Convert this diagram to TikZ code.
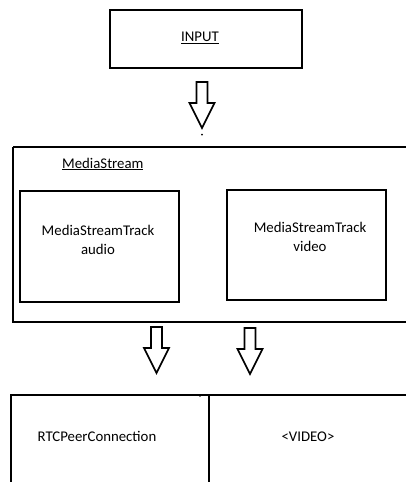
\documentclass[tikz,border=0pt]{standalone}
\usepackage{fontspec}
\setmainfont{Carlito}
\begin{document}
\begin{tikzpicture}[x=1pt,y=-1pt,
  box/.style={draw,line width=2.4pt},
  label/.style={font=\fontsize{14.8}{19}\selectfont,align=center,inner sep=0pt},
  hollowarrow/.pic={
    \draw[line width=1.6pt,line join=miter]
      (-5.5,0) -- (5.5,0) -- (5.5,21) -- (12.5,21) -- (0,46) -- (-12.5,21) -- (-5.5,21) -- cycle;
  }]
  \useasboundingbox (0,0) rectangle (406,482);

  % input block
  \node[box,minimum width=192pt,minimum height=58pt,inner sep=0pt] (input) at (206,39) {};
  \node[label] (inputtext) at (200,38) {\underline{INPUT}};

  % arrow from input into the stream
  \pic at (202,82) {hollowarrow};
  \fill (202,134.5) circle (1pt);

  % media stream container (runs past the right edge)
  \draw[box] (13,147) -- (430,147) (13,147) -- (13,322) -- (430,322);
  \node[label,anchor=west] (stream) at (62,164) {\underline{MediaStream}};

  % tracks
  \draw[box] (20,191) rectangle (179,302);
  \node[label] (audio) at (98,240) {MediaStreamTrack\\audio};
  \draw[box] (227,190) rectangle (386,300);
  \node[label] (video) at (310,237) {MediaStreamTrack\\video};

  % arrows out of the stream
  \pic at (156.5,327) {hollowarrow};
  \pic at (250,328) {hollowarrow};

  % consumers (run past the bottom and right edges)
  \draw[box] (11,500) -- (11,395) -- (430,395) (209,395) -- (209,500);
  \fill (200,396) circle (0.9pt);
  \node[label] (peer) at (97,436) {RTCPeerConnection};
  \node[label] (videotag) at (308,437) {<VIDEO>};
\end{tikzpicture}
\end{document}
